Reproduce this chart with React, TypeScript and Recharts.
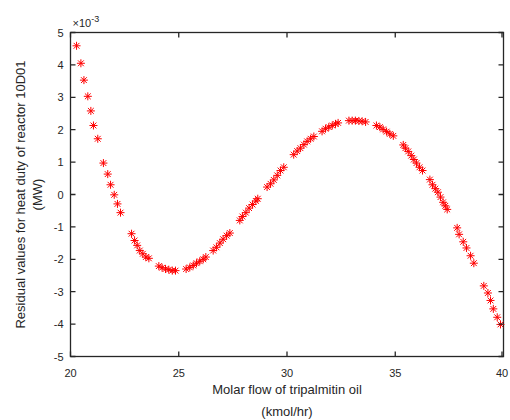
import { ScatterChart, Scatter, XAxis, YAxis } from "recharts";

// molar flow of tripalmitin oil (kmol/hr)
const flowValues = [
  20.28, 20.48, 20.62, 20.8, 20.94, 21.06, 21.26, 21.52, 21.72, 21.85, 22.02,
  22.17, 22.31, 22.82, 22.96, 23.08, 23.2, 23.34, 23.48, 23.62, 24.08, 24.23,
  24.39, 24.54, 24.7, 24.85, 25.34, 25.51, 25.67, 25.82, 25.97, 26.13, 26.25,
  26.59, 26.74, 26.9, 27.05, 27.21, 27.36, 27.82, 27.94, 28.1, 28.25, 28.41,
  28.56, 28.65, 29.08, 29.24, 29.39, 29.55, 29.7, 29.85, 30.31, 30.47, 30.62,
  30.78, 30.93, 31.09, 31.24, 31.62, 31.78, 31.93, 32.09, 32.24, 32.36, 32.86,
  33.01, 33.16, 33.32, 33.47, 33.63, 34.13, 34.29, 34.44, 34.6, 34.75, 34.91,
  35.37, 35.47, 35.6, 35.74, 35.86, 35.98, 36.12, 36.26, 36.6, 36.72, 36.85,
  36.97, 37.09, 37.21, 37.31, 37.4, 37.86, 37.95, 38.14, 38.29, 38.48, 38.63,
  39.09, 39.28, 39.4, 39.53, 39.71, 39.86,
];

// residual heat duty, in units of 1e-3 MW
const residualValues = [
  4.59, 4.05, 3.53, 3.03, 2.58, 2.13, 1.72, 0.97, 0.63, 0.3, -0.01, -0.29,
  -0.56, -1.21, -1.42, -1.57, -1.73, -1.83, -1.93, -1.97, -2.21, -2.26, -2.3,
  -2.32, -2.35, -2.35, -2.3, -2.25, -2.19, -2.12, -2.06, -2.0, -1.93, -1.73,
  -1.63, -1.5, -1.38, -1.27, -1.19, -0.8, -0.68, -0.56, -0.42, -0.31, -0.2,
  -0.13, 0.23, 0.33, 0.45, 0.59, 0.74, 0.84, 1.23, 1.34, 1.43, 1.54, 1.64,
  1.72, 1.79, 1.95, 2.03, 2.08, 2.13, 2.18, 2.21, 2.28, 2.28, 2.28, 2.27,
  2.26, 2.24, 2.13, 2.08, 2.01, 1.94, 1.87, 1.81, 1.53, 1.43, 1.33, 1.2, 1.08,
  0.97, 0.84, 0.74, 0.46, 0.3, 0.18, 0.07, -0.08, -0.24, -0.35, -0.46, -1.03,
  -1.23, -1.46, -1.65, -1.89, -2.12, -2.82, -3.04, -3.27, -3.53, -3.79, -4.01,
];

const xTicks = [20, 25, 30, 35, 40];
const yTicks = [-5, -4, -3, -2, -1, 0, 1, 2, 3, 4, 5];

const data = flowValues.map((x, i) => ({ x, y: residualValues[i] }));

const FONT = "'Liberation Sans', Arial, Helvetica, sans-serif";
const INK = "#262626";
const W = 510;
const H = 420;
const M = { top: 32.5, right: 6.5, bottom: 0, left: 0 };
const X_AXIS_H = 63.5;
const Y_AXIS_W = 70.5;
const PLOT_TOP = M.top;
const PLOT_RIGHT = W - M.right;
const PLOT_W = W - M.right - Y_AXIS_W;
const TICK = 5;
const LINE_W = 1.3;
const X_GAP = 20; // axis line to tick label baseline
const Y_GAP = 7;

const Asterisk = (props: any) => {
  const { cx, cy } = props;
  const r = 4;
  const d = 2.9;
  return (
    <g stroke="#ff0000" strokeWidth={1}>
      <line x1={cx - r} y1={cy} x2={cx + r} y2={cy} />
      <line x1={cx} y1={cy - r} x2={cx} y2={cy + r} />
      <line x1={cx - d} y1={cy - d} x2={cx + d} y2={cy + d} />
      <line x1={cx - d} y1={cy + d} x2={cx + d} y2={cy - d} />
    </g>
  );
};

// inward ticks on bottom and top edges, number below
const XTick = (props: any) => {
  const { x, y, payload } = props;
  const axisY = y - X_GAP;
  return (
    <g>
      <path d={`M${x},${axisY}V${axisY - TICK}M${x},${PLOT_TOP}V${PLOT_TOP + TICK}`} stroke={INK} strokeWidth={LINE_W} fill="none" />
      <text x={x} y={y} textAnchor="middle" fill={INK} fontSize={11} fontFamily={FONT}>
        {payload.value}
      </text>
    </g>
  );
};

// inward ticks on left and right edges, number to the left
const YTick = (props: any) => {
  const { x, y, payload } = props;
  const axisX = x + Y_GAP;
  return (
    <g>
      <path d={`M${axisX},${y}H${axisX + TICK}M${PLOT_RIGHT},${y}H${PLOT_RIGHT - TICK}`} stroke={INK} strokeWidth={LINE_W} fill="none" />
      <text x={x} y={y + 4} textAnchor="end" fill={INK} fontSize={11} fontFamily={FONT}>
        {payload.value}
      </text>
    </g>
  );
};

// y title, exponent note and the axes box
const YTitle = (props: any) => {
  const { x, y, width, height } = props.viewBox;
  const mid = y + height / 2;
  const left = x + width;
  return (
    <g fontFamily={FONT} fill={INK}>
      <rect x={left} y={y} width={PLOT_W} height={height} fill="none" stroke={INK} strokeWidth={LINE_W} />
      <text x={20} y={mid} transform={`rotate(-90 20 ${mid})`} textAnchor="middle" fontSize={13} dominantBaseline="central">
        Residual values for heat duty of reactor 10D01
      </text>
      <text x={37} y={mid} transform={`rotate(-90 37 ${mid})`} textAnchor="middle" fontSize={13} dominantBaseline="central">
        (MW)
      </text>
      <text x={left + 2} y={y - 6} fontSize={11}>
        ×10
        <tspan dy={-5} fontSize={9}>-3</tspan>
      </text>
    </g>
  );
};

const XTitle = (props: any) => {
  const { x, width } = props.viewBox;
  const cx = x + width / 2;
  return (
    <g fontFamily={FONT} fill={INK} fontSize={13} textAnchor="middle">
      <text x={cx} y={394}>Molar flow of tripalmitin oil</text>
      <text x={cx} y={416}>(kmol/hr)</text>
    </g>
  );
};

const App = () => {
  return (
    <div style={{ position: "absolute", left: 0, top: 0, background: "#fff" }}>
      <ScatterChart width={W} height={H} margin={M}>
        <XAxis
          xAxisId="bottom"
          dataKey="x"
          type="number"
          domain={[20, 40]}
          ticks={xTicks}
          height={X_AXIS_H}
          tickSize={0}
          tickLine={false}
          tickMargin={X_GAP}
          axisLine={false}
          tick={<XTick />}
          label={<XTitle />}
        />
        <YAxis
          yAxisId="left"
          dataKey="y"
          type="number"
          domain={[-5, 5]}
          ticks={yTicks}
          width={Y_AXIS_W}
          tickSize={0}
          tickLine={false}
          tickMargin={Y_GAP}
          axisLine={false}
          tick={<YTick />}
          label={<YTitle />}
        />
        <Scatter
          data={data}
          xAxisId="bottom"
          yAxisId="left"
          shape={<Asterisk />}
          isAnimationActive={false}
        />
      </ScatterChart>
    </div>
  );
};

export default App;
